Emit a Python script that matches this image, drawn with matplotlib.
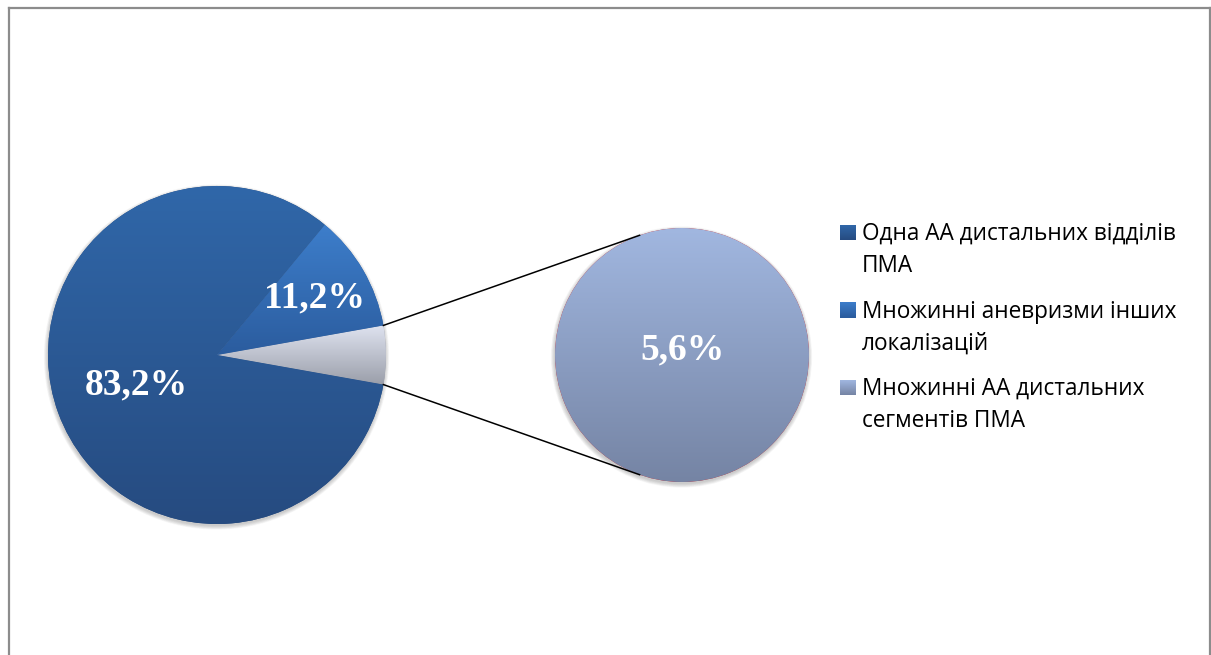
import numpy as np
import matplotlib
matplotlib.use("Agg")
import matplotlib.pyplot as plt
from matplotlib.patches import Circle, Rectangle
from matplotlib.colors import LinearSegmentedColormap

# main pie: share of each aneurysm group, %
main_values = [5.6, 11.2, 83.2]
main_labels = ["Множинні АА дистальних\nсегментів ПМА",
               "Множинні аневризми інших\nлокалізацій",
               "Одна АА дистальних відділів\nПМА"]
# the small slice is broken out into the second pie
detail_values = [5.6]

# gradient colours (top, bottom)
main_grads = [("#dfe3f0", "#9a9ea9"), ("#3d7ecb", "#2b5c9e"), ("#3067a9", "#264b80")]
detail_grad = ("#a1b7e0", "#7584a4")

W, H = 1211, 655
fig = plt.figure(figsize=(W / 100, H / 100), dpi=100)
ax = fig.add_axes([0, 0, 1, 1])
ax.set_xlim(0, W)
ax.set_ylim(0, H)
ax.axis("off")


def grad_fill(patch, top, bottom, z):
    x0, y0, x1, y1 = patch.get_path().get_extents().extents
    if isinstance(patch, Rectangle):
        x0, y0 = patch.get_xy()
        x1, y1 = x0 + patch.get_width(), y0 + patch.get_height()
    cmap = LinearSegmentedColormap.from_list("g", [bottom, top])
    g = np.linspace(0, 1, 256)[:, None]
    im = ax.imshow(g, extent=[x0, x1, y0, y1], origin="lower", cmap=cmap,
                   aspect="auto", clip_path=patch, zorder=z, interpolation="bilinear")
    return im


def soft_shadow(center, r):
    for i in range(7):
        ax.add_patch(Circle((center[0] - 0.5, center[1] - 2), r + 0.6 * i,
                            color="#606060", alpha=0.05, lw=0, zorder=1))


main_c, main_r = (217, 300), 169
det_c, det_r = (682, 300), 127

soft_shadow(main_c, main_r)
soft_shadow(det_c, det_r)

start = -main_values[0] * 3.6 / 2
wedges, _ = ax.pie(main_values, center=main_c, radius=main_r, startangle=start,
                   counterclock=True, wedgeprops=dict(lw=0))
for w, (top, bot) in zip(wedges, main_grads):
    w.set_zorder(2)
    w.set_facecolor(bot)
    grad_fill(w, top, bot, 3)

det_wedges, _ = ax.pie(detail_values, center=det_c, radius=det_r,
                       wedgeprops=dict(lw=0))
det_wedges[0].set_zorder(2)
grad_fill(det_wedges[0], *detail_grad, 3)

# connector lines from the small slice to the second pie
small = wedges[0]
for th_main, th_det in [(small.theta2, 109.5), (small.theta1, 250.5)]:
    a, b = np.radians(th_main), np.radians(th_det)
    ax.plot([main_c[0] + main_r * np.cos(a), det_c[0] + det_r * np.cos(b)],
            [main_c[1] + main_r * np.sin(a), det_c[1] + det_r * np.sin(b)],
            color="black", lw=1.1, zorder=4)


def pct(v):
    return f"{v:.1f}%".replace(".", ",")


lbl_font = dict(family="Liberation Serif", weight="bold", size=27, color="white",
                ha="center", va="center", zorder=5)
for w, v, d in zip(wedges[1:], main_values[1:], [0.67, 0.51]):
    mid = np.radians((w.theta1 + w.theta2) / 2)
    ax.text(main_c[0] + d * main_r * np.cos(mid), main_c[1] + d * main_r * np.sin(mid),
            pct(v), **lbl_font)
ax.text(det_c[0], det_c[1] + 5, pct(detail_values[0]), **lbl_font)

# legend
leg_colors = [main_grads[2], main_grads[1], detail_grad]
leg_text = [main_labels[2], main_labels[1], main_labels[0]]
for i, (txt, (top, bot)) in enumerate(zip(leg_text, leg_colors)):
    y = H - 232.5 - 77.5 * i
    sq = Rectangle((840, y - 7.5), 16, 15, lw=0, facecolor=bot, zorder=4)
    ax.add_patch(sq)
    grad_fill(sq, top, bot, 5)
    for j, line in enumerate(txt.split("\n")):
        ax.text(862, y - 7.5 - 32 * j, line, family="Open Sans", size=16.3,
                color="black", ha="left", va="baseline", zorder=5)

# chart frame
fl = dict(color="#8c8c8c", lw=1.6, zorder=6)
ax.plot([8.5, 8.5], [0, H - 7.5], **fl)
ax.plot([8.5, 1209.5], [H - 7.5, H - 7.5], **fl)
ax.plot([1209.5, 1209.5], [0, H - 7.5], **fl)

ax.set_xlim(0, W)
ax.set_ylim(0, H)
fig.savefig("out.png", dpi=100, facecolor="white")
